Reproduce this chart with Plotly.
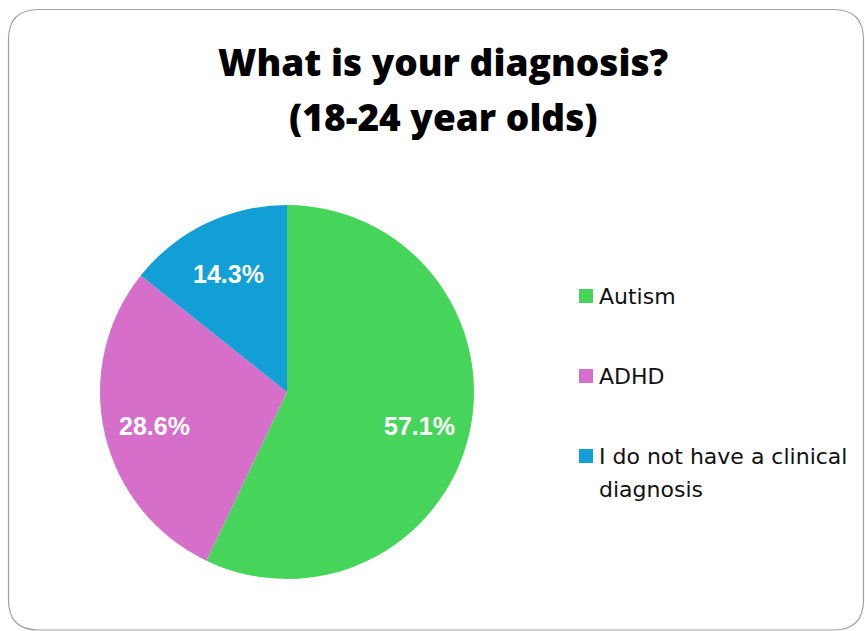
import math
import plotly.graph_objects as go

labels = ["Autism", "ADHD", "I do not have a clinical diagnosis"]
legend_lines = [["Autism"], ["ADHD"], ["I do not have a clinical", "diagnosis"]]
values = [57.1, 28.6, 14.3]
colors = ["#47D45A", "#D66FC9", "#129FD6"]
title_lines = ["What is your diagnosis?", "(18-24 year olds)"]

W, H = 865, 631
def px(x):
    return x / W
def py(y):
    return 1 - y / H

# pie geometry (pixels)
cx, cy, R = 287, 392, 187

fig = go.Figure(go.Pie(
    labels=labels, values=values, sort=False, direction="clockwise", rotation=0,
    marker=dict(colors=colors, line=dict(width=0)),
    textinfo="none",
    domain=dict(x=[px(cx - R), px(cx + R)], y=[py(cy + R), py(cy - R)]),
    showlegend=False, hoverinfo="label+percent",
))

# rounded border
l, t, r, b, rad = 8.5, 9.5, 863.5, 630, 30
path = (f"M {px(l+rad)},{py(t)} L {px(r-rad)},{py(t)} Q {px(r)},{py(t)} {px(r)},{py(t+rad)} "
        f"L {px(r)},{py(b-rad)} Q {px(r)},{py(b)} {px(r-rad)},{py(b)} "
        f"L {px(l+rad)},{py(b)} Q {px(l)},{py(b)} {px(l)},{py(b-rad)} "
        f"L {px(l)},{py(t+rad)} Q {px(l)},{py(t)} {px(l+rad)},{py(t)} Z")
shapes = [dict(type="path", xref="paper", yref="paper", path=path,
               line=dict(color="#A0A0A0", width=1.2), layer="below")]

annotations = []
for i, line in enumerate(title_lines):
    annotations.append(dict(text=line, x=px(443), y=py(61 + 55 * i), xref="paper", yref="paper",
                            showarrow=False, xanchor="center", yanchor="middle",
                            font=dict(family="Open Sans", size=37, color="black", weight=800)))

# percentage labels placed from the data (slice mid-angles)
total = sum(values)
cum = 0.0
for v in values:
    mid = (cum + v / 2) / total * 2 * math.pi
    cum += v
    d = 0.725 * R
    lx = cx + d * math.sin(mid)
    ly = cy - d * math.cos(mid) + 4
    annotations.append(dict(text=f"{v / total * 100:.1f}%", x=px(lx), y=py(ly),
                            xref="paper", yref="paper", showarrow=False,
                            xanchor="center", yanchor="middle",
                            font=dict(family="Liberation Sans", size=25, color="white", weight="bold")))

leg_y = [296, 376, 456]
for i, (lines, c) in enumerate(zip(legend_lines, colors)):
    y = leg_y[i]
    shapes.append(dict(type="rect", xref="paper", yref="paper",
                       x0=px(579), x1=px(593), y0=py(y + 7), y1=py(y - 7),
                       fillcolor=c, line=dict(width=0)))
    for j, txt in enumerate(lines):
        annotations.append(dict(text=txt, x=px(597), y=py(y + 33 * j), xref="paper", yref="paper",
                                showarrow=False, xanchor="left", yanchor="middle", align="left",
                                font=dict(family="DejaVu Sans", size=22, color="#111111")))

fig.update_layout(
    width=W, height=H, margin=dict(l=0, r=0, t=0, b=0),
    paper_bgcolor="white", plot_bgcolor="white",
    shapes=shapes, annotations=annotations,
)
fig.write_html("out.html")
